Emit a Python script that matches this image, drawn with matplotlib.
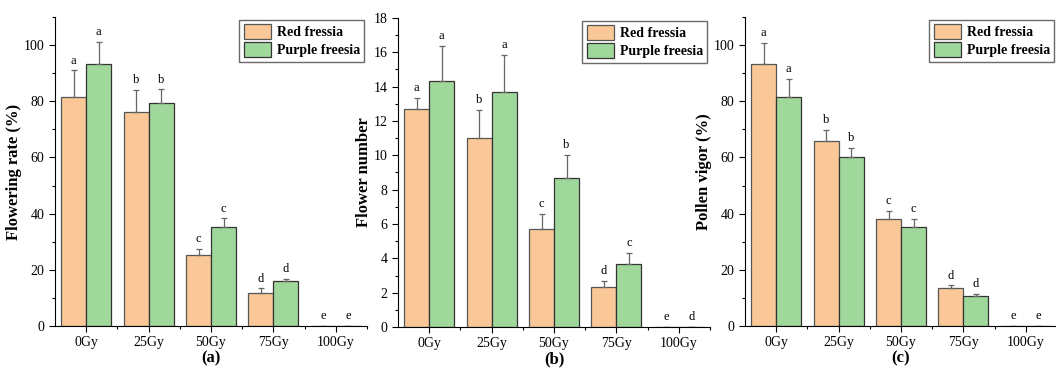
import matplotlib.pyplot as plt
from matplotlib.ticker import MultipleLocator
import numpy as np

doses = ["0Gy", "25Gy", "50Gy", "75Gy", "100Gy"]

# (a) flowering rate
flower_rate_red = [81.6, 76.1, 25.3, 11.9, 0]
flower_rate_red_err = [9.4, 8.0, 2.2, 1.5, 0]
flower_rate_purple = [93.3, 79.5, 35.4, 16.0, 0]
flower_rate_purple_err = [7.8, 4.7, 2.9, 0.8, 0]
flower_rate_red_letters = ["a", "b", "c", "d", "e"]
flower_rate_purple_letters = ["a", "b", "c", "d", "e"]

# (b) flower number
flower_num_red = [12.67, 11.01, 5.69, 2.33, 0]
flower_num_red_err = [0.68, 1.65, 0.91, 0.35, 0]
flower_num_purple = [14.33, 13.69, 8.66, 3.67, 0]
flower_num_purple_err = [2.05, 2.17, 1.37, 0.63, 0]
flower_num_red_letters = ["a", "b", "c", "d", "e"]
flower_num_purple_letters = ["a", "a", "b", "c", "d"]

# (c) pollen vigor
pollen_red = [93.2, 65.7, 38.0, 13.4, 0]
pollen_red_err = [7.7, 4.1, 2.9, 1.1, 0]
pollen_purple = [81.5, 60.0, 35.2, 10.8, 0]
pollen_purple_err = [6.6, 3.3, 3.0, 0.7, 0]
pollen_red_letters = ["a", "b", "c", "d", "e"]
pollen_purple_letters = ["a", "b", "c", "d", "e"]

red_color = "#FAC898"
purple_color = "#A0D89C"

plt.rcParams["font.family"] = "Liberation Serif"

fig = plt.figure(figsize=(10.56, 3.68), dpi=100)

panels = [
    (0.0521, 0.1141, "Flowering rate (%)", "(a)", 110, 20, 10,
     flower_rate_red, flower_rate_red_err, flower_rate_purple, flower_rate_purple_err,
     flower_rate_red_letters, flower_rate_purple_letters),
    (0.3769, 0.1114, "Flower number", "(b)", 18, 2, 1,
     flower_num_red, flower_num_red_err, flower_num_purple, flower_num_purple_err,
     flower_num_red_letters, flower_num_purple_letters),
    (0.7055, 0.1141, "Pollen vigor (%)", "(c)", 110, 20, 10,
     pollen_red, pollen_red_err, pollen_purple, pollen_purple_err,
     pollen_red_letters, pollen_purple_letters),
]

x = np.arange(len(doses))
w = 0.4

for (left, bottom, ylab, tag, ymax, major, minor,
     red, red_err, pur, pur_err, red_let, pur_let) in panels:
    ax = fig.add_axes([left, bottom, 0.2955, 0.8397])
    ax.bar(x - w / 2, red, w, color=red_color, edgecolor="#555555", linewidth=0.9,
           label="Red fressia")
    ax.bar(x + w / 2, pur, w, color=purple_color, edgecolor="#333333", linewidth=0.9,
           label="Purple freesia")
    for xs, vals, errs in [(x - w / 2, red, red_err), (x + w / 2, pur, pur_err)]:
        ax.errorbar(xs, vals, yerr=[np.zeros(len(errs)), errs], fmt="none",
                    ecolor="#666666", elinewidth=0.9, capsize=2.5, capthick=0.9)
    off = ymax * 0.012
    for xs, vals, errs, lets in [(x - w / 2, red, red_err, red_let),
                                  (x + w / 2, pur, pur_err, pur_let)]:
        for xi, v, e, l in zip(xs, vals, errs, lets):
            ax.text(xi, v + e + off, l, ha="center", va="bottom", fontsize=9)

    ax.set_xlim(-0.5, 4.5)
    ax.set_ylim(0, ymax)
    ax.set_xticks(x)
    ax.set_xticklabels(doses, fontsize=10)
    ax.set_xticks(x + 0.5, minor=True)
    ax.yaxis.set_major_locator(MultipleLocator(major))
    ax.yaxis.set_minor_locator(MultipleLocator(minor))
    ax.tick_params(axis="both", which="major", direction="out", length=4, width=0.8,
                   labelsize=10)
    ax.tick_params(axis="both", which="minor", direction="out", length=2.5, width=0.8)
    ax.spines["top"].set_visible(False)
    ax.spines["right"].set_visible(False)
    ax.set_ylabel(ylab, fontsize=12, fontweight="bold", labelpad=1)
    ax.set_xlabel(tag, fontsize=12, fontweight="bold", labelpad=1)
    ax.legend(loc="upper right", bbox_to_anchor=(1.0, 1.0), frameon=True,
              fancybox=False, edgecolor="#444444", prop={"weight": "bold", "size": 10},
              handlelength=2.0, handleheight=1.25, borderpad=0.3, labelspacing=0.25,
              handletextpad=0.4, borderaxespad=0.2)

fig.savefig("out.png", dpi=100)
